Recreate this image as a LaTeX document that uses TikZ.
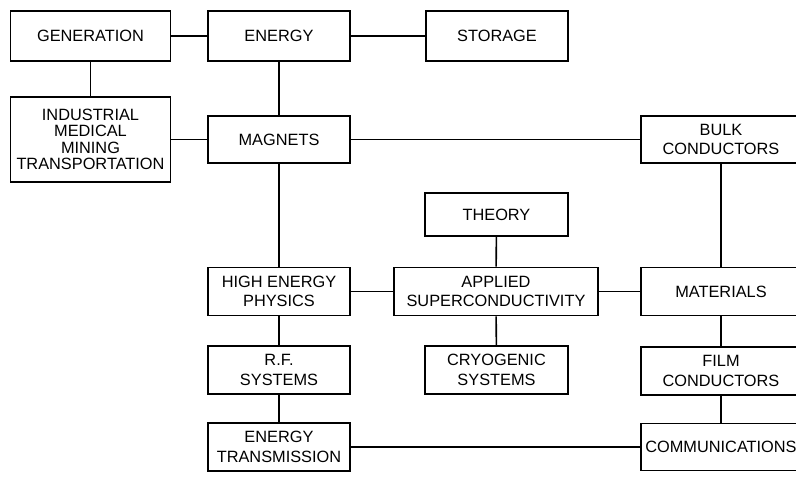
\documentclass[tikz,border=0pt]{standalone}
\usepackage{fontspec}
\setmainfont{Liberation Sans}
\usetikzlibrary{positioning}
\tikzset{
  blk/.style={draw, line width=0.9pt, align=center, inner sep=0pt,
    minimum width=2.85cm, minimum height=0.96cm,
    font=\fontsize{9.3}{11.2}\selectfont},
  wideblk/.style={blk, minimum width=3.2cm},
  link/.style={line width=0.9pt}
}

\begin{document}
\begin{tikzpicture}[x=0.02cm,y=-0.02cm]
\useasboundingbox (0,0) rectangle (796,484);
\node[wideblk, minimum height=1.0cm] (gen) at (90.5,36) {GENERATION};
\node[blk, minimum height=1.0cm] (energy) at (279,36) {ENERGY};
\node[blk, minimum height=1.0cm] (storage) at (497,36) {STORAGE};
\node[wideblk, minimum height=1.7cm, font=\fontsize{9.3}{9.3}\selectfont] (indus) at (90.5,139.5) {INDUSTRIAL\\MEDICAL\\MINING\\TRANSPORTATION};
\node[blk, minimum height=0.94cm] (magnets) at (279,139.5) {MAGNETS};
\node[wideblk, minimum height=0.94cm] (bulk) at (721,139.5) {BULK\\CONDUCTORS};
\node[blk, minimum height=0.86cm] (theory) at (496.5,214.5) {THEORY};
\node[blk] (hep) at (279,291.5) {HIGH ENERGY\\PHYSICS};
\node[blk, minimum width=4.08cm] (applied) at (496,291.5) {APPLIED\\SUPERCONDUCTIVITY};
\node[wideblk] (materials) at (721,291.5) {MATERIALS};
\node[blk] (rf) at (279,370) {R.F.\\SYSTEMS};
\node[blk] (cryo) at (496.5,370) {CRYOGENIC\\SYSTEMS};
\node[wideblk] (film) at (721,371) {FILM\\CONDUCTORS};
\node[blk] (etrans) at (279,447) {ENERGY\\TRANSMISSION};
\node[wideblk, minimum height=0.94cm] (comm) at (721,447) {COMMUNICATIONS};
\path[link]
(gen) edge (energy)
(energy) edge (storage)
(gen) edge (indus)
(energy) edge (magnets)
(indus) edge (magnets)
(magnets) edge (bulk)
(magnets) edge (hep)
(bulk) edge (materials)
(theory) edge (applied)
(hep) edge (applied)
(applied) edge (materials)
(applied) edge (cryo)
(hep) edge (rf)
(rf) edge (etrans)
(materials) edge (film)
(film) edge (comm)
(etrans) edge (comm);
\end{tikzpicture}
\end{document}
